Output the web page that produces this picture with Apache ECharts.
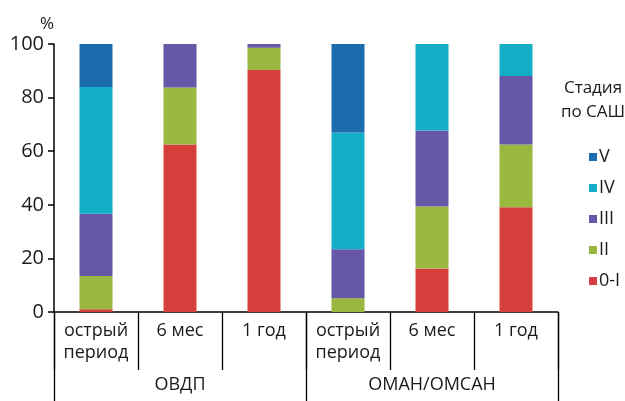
<!DOCTYPE html>
<html>
<head>
<meta charset="utf-8">
<script src="https://cdn.jsdelivr.net/npm/echarts@6/dist/echarts.min.js"></script>
<style>
  html, body { margin: 0; padding: 0; background: #fff; }
  #chart { width: 625px; height: 401px; }
</style>
</head>
<body>
<div id="chart"></div>
<script>
// категории и группы
var periods = ['острый\nпериод', '6 мес', '1 год', 'острый\nпериод', '6 мес', '1 год'];
var groups = ['ОВДП', 'ОМАН/ОМСАН'];

// доли (%) по стадиям САШ
var stage0I = [1, 62.5, 90.3, 0, 16.2, 39.1];
var stageII = [12.4, 21.3, 8.3, 5.1, 23.2, 23.4];
var stageIII = [23.3, 16.2, 1.4, 18.3, 28.3, 25.6];
var stageIV = [47.3, 0, 0, 43.6, 32.3, 11.9];
var stageV = [16, 0, 0, 33, 0, 0];

var font = 'Open Sans, Liberation Sans, sans-serif';
var ink = '#1a1a1a';

var chart = echarts.init(document.getElementById('chart'));

function bar(name, data, color) {
  return {
    name: name,
    type: 'bar',
    stack: 'all',
    barWidth: 33,
    data: data,
    itemStyle: { color: color },
    emphasis: { disabled: true }
  };
}

chart.setOption({
  animation: false,
  textStyle: { fontFamily: font },
  title: {
    text: 'Стадия\nпо САШ',
    left: 588,
    top: 71,
    textAlign: 'center',
    textStyle: { fontSize: 17, fontWeight: 'normal', color: ink, lineHeight: 24, fontFamily: font }
  },
  legend: {
    orient: 'vertical',
    left: 584,
    top: 143,
    itemWidth: 8,
    itemHeight: 8,
    itemGap: 13,
    icon: 'rect',
    textStyle: { fontSize: 18, color: ink, padding: [0, 0, 0, -3] },
    data: ['V', 'IV', 'III', 'II', '0-I']
  },
  grid: { left: 54, right: 67, top: 44, bottom: 89 },
  xAxis: [{
    type: 'category',
    data: periods,
    axisLine: { show: true, onZero: false, lineStyle: { color: '#000', width: 1.5 } },
    axisTick: { show: true, interval: 0, length: 58, lineStyle: { color: '#000', width: 1.3 } },
    axisLabel: { interval: 0, margin: 8, fontSize: 18, color: ink, lineHeight: 22 }
  }, {
    type: 'category',
    position: 'bottom',
    data: groups,
    axisLine: { show: false },
    axisTick: { show: true, interval: 0, length: 89, lineStyle: { color: '#000', width: 1.3 } },
    axisLabel: { interval: 0, margin: 64, fontSize: 18, color: ink }
  }],
  yAxis: {
    type: 'value',
    position: 'left',
    min: 0,
    max: 100,
    interval: 20,
    name: '%',
    nameLocation: 'end',
    nameGap: 11,
    nameTextStyle: { fontSize: 17, color: ink, padding: [0, 14, 0, 0] },
    axisLine: { show: true, onZero: false, lineStyle: { color: '#000', width: 1.5 } },
    axisTick: { show: true, inside: false, length: 6, lineStyle: { color: '#000', width: 1.5 } },
    splitLine: { show: false },
    axisLabel: { fontSize: 20, color: ink, margin: 10 }
  },
  series: [
    bar('0-I', stage0I, '#d6403c'),
    bar('II', stageII, '#9ab840'),
    bar('III', stageIII, '#6657a7'),
    bar('IV', stageIV, '#14aec8'),
    bar('V', stageV, '#1c6cad')
  ]
});
</script>
</body>
</html>
